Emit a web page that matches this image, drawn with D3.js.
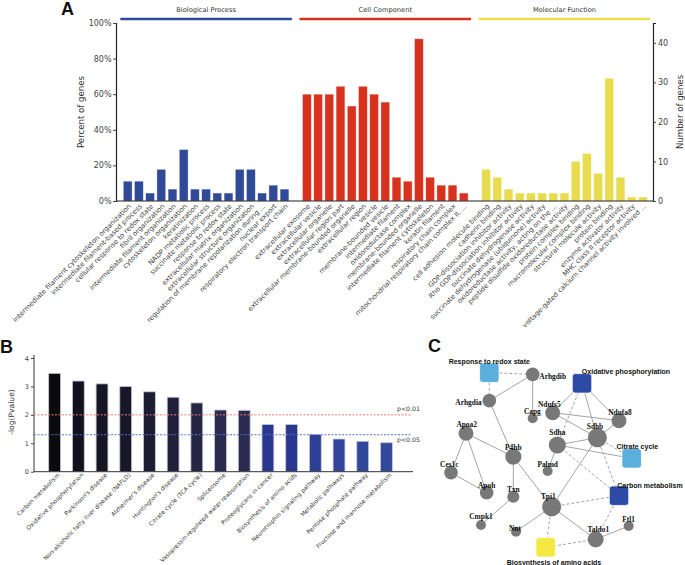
<!DOCTYPE html>
<html><head><meta charset="utf-8">
<script src="https://cdn.jsdelivr.net/npm/d3@7"></script>
<style>body{margin:0;background:#fff}svg{display:block}</style>
</head><body>
<svg id="c" width="685" height="565"></svg>
<script>
// ---------- Panel A data ----------
const bpTerms = ["intermediate filament cytoskeleton organization","intermediate filament-based process","cellular response to redox state","fibril organization","intermediate filament organization","cytoskeleton organization","keratinization","NADP metabolic process","succinate metabolic process","response to redox state","extracellular matrix organization","extracellular structure organization","regulation of membrane repolarization during ...","nuclear export","respiratory electron transport chain"];
const bpCounts = [5,5,2,8,3,13,3,3,2,2,8,8,2,4,3];
const ccTerms = ["extracellular exosome","extracellular vesicle","extracellular organelle","extracellular region part","extracellular membrane-bounded organelle","extracellular region","vesicle","membrane-bounded vesicle","intermediate filament","oxidoreductase complex","membrane-bounded organelle","intermediate filament cytoskeleton","keratin filament","respiratory chain complex","mitochondrial respiratory chain complex II, ..."];
const ccCounts = [27,27,27,29,24,29,27,25,6,5,41,6,4,4,2];
const mfTerms = ["cell adhesion molecule binding","cadherin binding","GDP-dissociation inhibitor activity","Rho GDP-dissociation inhibitor activity","succinate dehydrogenase activity","succinate dehydrogenase (ubiquinone) activity","oxidoreductase activity, acting on the ...","peptide disulfide oxidoreductase activity","protein complex binding","macromolecular complex binding","structural molecule activity","protein binding","enzyme activator activity","MHC class II receptor activity","voltage-gated calcium channel activity involved ..."];
const mfCounts = [8,6,3,2,2,2,2,2,10,12,7,31,6,1,1];
const groupNames = ["Biological Process","Cell Component","Molecular Function"];
const totalGenes = 45;
const pctTicks = [0,0.2,0.4,0.6,0.8,1];
const countTicks = [0,10,20,30,40];

// ---------- Panel B data ----------
const keggTerms = ["Carbon metabolism","Oxidative phosphorylation","Parkinson's disease","Non-alcoholic fatty liver disease (NAFLD)","Alzheimer's disease","Huntington's disease","Citrate cycle (TCA cycle)","Spliceosome","Vasopressin-regulated water reabsorption","Proteoglycans in cancer","Biosynthesis of amino acids","Neurotrophin signaling pathway","Metabolic pathways","Pentose phosphate pathway","Fructose and mannose metabolism"];
const keggLogP = [3.46,3.19,3.09,3.0,2.81,2.62,2.42,2.17,2.16,1.66,1.66,1.31,1.15,1.07,1.02];
const logPTicks = [0,1,2,3,4];
const thresholdValues = [2, 1.3];
const thresholdLabels = ["p<0.01","p<0.05"];

// ---------- Panel C data ----------
const nodeNames = ["Response to redox state","Oxidative phosphorylation","Citrate cycle","Carbon metabolism","Biosynthesis of amino acids","Arhgdib","Arhgdia","Capg","Ndufs5","Ndufa8","Sdhb","Sdha","Palmd","Apoa2","P4hb","Ces1c","Apoh","Txn","Tpi1","Cmpk1","Nnt","Taldo1","Ftl1"];
const nodeKinds = ["redox","oxphos","citrate","carbon","biosyn","gene","gene","gene","gene","gene","gene","gene","gene","gene","gene","gene","gene","gene","gene","gene","gene","gene","gene"];
const nodeWeight = [0,0,0,0,0,3,3,1,4,4,8,6,1,4,5,3,3,2,8,1,1,5,1];
const edgeSource = ["Response to redox state","Response to redox state","Arhgdia","Arhgdib","Arhgdia","Apoa2","Apoa2","Apoa2","Ces1c","P4hb","Txn","P4hb","Tpi1","Tpi1","Tpi1","Tpi1","Tpi1","Sdha","Taldo1","Taldo1","Taldo1","Sdhb","Sdha","Sdha","Sdhb","Oxidative phosphorylation","Oxidative phosphorylation","Oxidative phosphorylation","Oxidative phosphorylation","Ndufs5","Ndufs5","Ndufa8","Sdha"];
const edgeTarget = ["Arhgdib","Arhgdia","Arhgdib","Capg","P4hb","Ces1c","Apoh","P4hb","Apoh","Txn","Cmpk1","Tpi1","Nnt","Taldo1","Biosynthesis of amino acids","Carbon metabolism","Sdhb","Palmd","Biosynthesis of amino acids","Ftl1","Carbon metabolism","Carbon metabolism","Carbon metabolism","Citrate cycle","Citrate cycle","Ndufs5","Ndufa8","Sdhb","Sdha","Ndufa8","Sdhb","Sdhb","Sdhb"];
const edgeKind = ["pred","pred","ppi","ppi","ppi","ppi","ppi","ppi","ppi","ppi","ppi","ppi","ppi","ppi","pred","pred","ppi","ppi","pred","ppi","pred","pred","pred","ppi","pred","ppi","ppi","ppi","pred","ppi","ppi","ppi","ppi"];

// ---------- Layout (network positions in a 855x705 design grid) ----------
const netLayout = {
 "Response to redox state":[268,128,0,-33,"middle"],
 "Oxidative phosphorylation":[546,160,132,-35,"middle"],
 "Citrate cycle":[695,385,17,-37,"middle"],
 "Carbon metabolism":[657,497,93,-30,"middle"],
 "Biosynthesis of amino acids":[437,652,25,45,"middle"],
 "Arhgdib":[398,133,20,5,"start"],
 "Arhgdia":[268,212,-23,5,"end"],
 "Capg":[398,265,-1,-20,"middle"],
 "Ndufs5":[458,248,-10,-26,"middle"],
 "Ndufa8":[657,272,3,-25,"middle"],
 "Sdhb":[592,323,-7,-33,"middle"],
 "Sdha":[472,345,0,-37,"middle"],
 "Palmd":[443,423,0,-21,"middle"],
 "Apoa2":[198,310,2,-27,"middle"],
 "P4hb":[340,380,0,-27,"middle"],
 "Ces1c":[153,428,-5,-25,"middle"],
 "Apoh":[260,488,0,-21,"middle"],
 "Txn":[340,500,0,-23,"middle"],
 "Tpi1":[455,530,-10,-32,"middle"],
 "Cmpk1":[243,585,0,-25,"middle"],
 "Nnt":[348,605,-3,-10,"middle"],
 "Taldo1":[587,628,8,-31,"middle"],
 "Ftl1":[686,588,0,-21,"middle"]
};

const svg = d3.select("#c");
const SANS = "'DejaVu Sans', sans-serif";

// ================= PANEL A =================
const A = svg.append("g");
const yPct = d3.scaleLinear().domain([0,1]).range([201,23]);
const yCnt = d3.scaleLinear().domain([0,totalGenes]).range([201,23]);
const slots = [];
const groups = [
 {name:groupNames[0], terms:bpTerms, counts:bpCounts, color:"#304a98"},
 {name:groupNames[1], terms:ccTerms, counts:ccCounts, color:"#d8321f"},
 {name:groupNames[2], terms:mfTerms, counts:mfCounts, color:"#e8dc4e"}
];
groups.forEach((g,gi)=>{
  g.terms.forEach((t,i)=>slots.push({key:gi+"|"+t, term:t, count:g.counts[i], color:g.color, gi}));
  if (gi<2) slots.push({key:"gap"+gi, gap:true});
});
const xA = d3.scaleBand().domain(slots.map(d=>d.key)).range([122.1,648.5]).paddingInner(0.22).paddingOuter(0.11);
const bars = slots.filter(d=>!d.gap);

A.selectAll("rect.bar").data(bars).join("rect")
 .attr("x",d=>xA(d.key)).attr("width",xA.bandwidth())
 .attr("y",d=>yCnt(d.count)).attr("height",d=>yCnt(0)-yCnt(d.count))
 .attr("fill",d=>d.color).attr("stroke","#ffffff").attr("stroke-opacity",0.5).attr("stroke-width",0.6);

// axes
const leftAx = d3.axisLeft(yPct).tickValues(pctTicks).tickFormat(d=>Math.round(d*100)+"%").tickSize(3).tickPadding(1.5);
const gl = A.append("g").attr("transform","translate(116,0)").call(leftAx);
const rightAx = d3.axisRight(yCnt).tickValues(countTicks).tickSize(3).tickPadding(2);
const gr = A.append("g").attr("transform","translate(653,0)").call(rightAx);
[gl,gr].forEach(g=>{
  g.select(".domain").attr("stroke","#222").attr("stroke-width",1.2);
  g.selectAll(".tick line").attr("stroke","#444");
  g.selectAll(".tick text").attr("fill","#444").style("font-family",SANS).style("font-size","8px");
});
A.append("line").attr("x1",116).attr("x2",653).attr("y1",yPct(0)).attr("y2",yPct(0)).attr("stroke","#222").attr("stroke-width",1.2);

// x labels
A.selectAll("text.xl").data(bars).join("text")
 .attr("transform",d=>`translate(${xA(d.key)+xA.bandwidth()/2+2},${205}) rotate(-45)`)
 .attr("text-anchor","end").attr("dy","0.35em")
 .style("font-family",SANS).style("font-size","6.8px").attr("fill","#444")
 .text(d=>d.term);

// group bars & titles
groups.forEach((g,gi)=>{
  const first = xA(gi+"|"+g.terms[0]);
  const last = xA(gi+"|"+g.terms[g.terms.length-1])+xA.bandwidth();
  const x1 = first-3, x2 = last+3;
  A.append("line").attr("x1",x1).attr("x2",x2).attr("y1",19).attr("y2",19)
   .attr("stroke",g.color==="#e8dc4e"?"#ecdf4c":g.color).attr("stroke-width",2.6);
  A.append("text").attr("x",(x1+x2)/2).attr("y",12).attr("text-anchor","middle")
   .style("font-family",SANS).style("font-size","6.7px").attr("fill","#333").text(g.name);
});
A.append("text").attr("transform","translate(84,112) rotate(-90)").attr("text-anchor","middle")
 .style("font-family",SANS).style("font-size","8.6px").attr("fill","#333").text("Percent of genes");
A.append("text").attr("transform","translate(683,112) rotate(-90)").attr("text-anchor","middle")
 .style("font-family",SANS).style("font-size","8.6px").attr("fill","#333").text("Number of genes");
A.append("text").attr("x",61).attr("y",15).style("font-family","'Liberation Sans', Arial, sans-serif")
 .style("font-weight","bold").style("font-size","18px").attr("fill","#111").text("A");

// ================= PANEL B =================
const B = svg.append("g");
const yB = d3.scaleLinear().domain([0,4]).range([471.7,358]);
const xB = d3.scaleBand().domain(keggTerms).range([42.77,398.27]).paddingInner(0.5).paddingOuter(0.25);
const colB = d3.scaleLinear().domain([3.46,3.0,2.16,1.66,1.02]).range(["#0b0b0d","#17172a","#2b2b4f","#2a3790","#31489b"]);
B.selectAll("rect").data(keggTerms).join("rect")
 .attr("x",d=>xB(d)).attr("width",xB.bandwidth())
 .attr("y",(d,i)=>yB(keggLogP[i])).attr("height",(d,i)=>yB(0)-yB(keggLogP[i]))
 .attr("fill",(d,i)=>colB(keggLogP[i])).attr("stroke","#c9c9d3").attr("stroke-width",0.8);
const gB = B.append("g").attr("transform","translate(34,0)")
 .call(d3.axisLeft(yB).tickValues(logPTicks).tickFormat(d3.format("d")).tickSize(3).tickPadding(2));
gB.select(".domain").attr("stroke","#333").attr("d","M-0,355V471.7");
gB.selectAll(".tick line").attr("stroke","#444");
gB.selectAll(".tick text").attr("fill","#444").style("font-family",SANS).style("font-size","6.5px");
B.append("line").attr("x1",34).attr("x2",413).attr("y1",yB(0)).attr("y2",yB(0)).attr("stroke","#333").attr("stroke-width",1);
const thrColors = ["#f07c70","#5a6fc8"];
thresholdValues.forEach((v,i)=>{
  B.append("line").attr("x1",34).attr("x2",412).attr("y1",yB(v)).attr("y2",yB(v))
   .attr("stroke",thrColors[i]).attr("stroke-width",1).attr("stroke-dasharray","2,1.5");
  B.append("text").attr("x",397).attr("y",i===0?yB(v)-4:yB(v)+7).style("font-family",SANS)
   .style("font-size","6.2px").attr("fill","#333").text(thresholdLabels[i]);
});
B.selectAll("text.xl").data(keggTerms).join("text")
 .attr("transform",d=>`translate(${xB(d)+xB.bandwidth()/2+4},474) rotate(-45)`)
 .attr("text-anchor","end").attr("dy","0.35em")
 .style("font-family",SANS).style("font-size","5.9px").attr("fill","#333").text(d=>d);
B.append("text").attr("transform","translate(14,412) rotate(-90)").attr("text-anchor","middle")
 .style("font-family",SANS).style("font-size","7.6px").attr("fill","#333").text("-log(Pvalue)");
B.append("text").attr("x",0).attr("y",353).style("font-family","'Liberation Sans', Arial, sans-serif")
 .style("font-weight","bold").style("font-size","18px").attr("fill","#111").text("B");

// ================= PANEL C =================
const C = svg.append("g");
const xC = d3.scaleLinear().domain([0,855]).range([400,685]);
const yC = d3.scaleLinear().domain([0,705]).range([330,565]);
const rC = d3.scaleSqrt().domain([1,8]).range([5,9.5]);
const kindFill = {redox:"#5aafdc",citrate:"#5aafdc",oxphos:"#2d4aa6",carbon:"#2d4aa6",biosyn:"#f4e842"};
const nodes = nodeNames.map((n,i)=>({name:n, kind:nodeKinds[i], w:nodeWeight[i], x:xC(netLayout[n][0]), y:yC(netLayout[n][1]), lay:netLayout[n]}));
const byName = Object.fromEntries(nodes.map(n=>[n.name,n]));
const edges = edgeSource.map((s,i)=>({s:byName[s], t:byName[edgeTarget[i]], kind:edgeKind[i]}));
C.selectAll("line").data(edges).join("line")
 .attr("x1",d=>d.s.x).attr("y1",d=>d.s.y).attr("x2",d=>d.t.x).attr("y2",d=>d.t.y)
 .attr("stroke","#9a9a9a").attr("stroke-width",0.9)
 .attr("stroke-dasharray",d=>d.kind==="pred"?"3,2":null);
const sq = 19.5;
C.selectAll("rect").data(nodes.filter(n=>n.kind!=="gene")).join("rect")
 .attr("x",d=>d.x-sq/2).attr("y",d=>d.y-sq/2).attr("width",sq).attr("height",sq).attr("rx",3)
 .attr("fill",d=>kindFill[d.kind]).attr("stroke","#ffffff").attr("stroke-width",0.8);
C.selectAll("circle").data(nodes.filter(n=>n.kind==="gene")).join("circle")
 .attr("cx",d=>d.x).attr("cy",d=>d.y).attr("r",d=>rC(d.w)).attr("fill","#787878");
C.selectAll("text.lab").data(nodes).join("text")
 .attr("x",d=>d.x+d.lay[2]/3).attr("y",d=>d.y+d.lay[3]/3+2.5)
 .attr("text-anchor",d=>d.lay[4])
 .style("font-family",d=>d.kind==="gene"?"'Liberation Serif', serif":"'Liberation Sans', Arial, sans-serif")
 .style("font-weight","bold").style("font-size",d=>d.kind==="gene"?"7.4px":"7px")
 .attr("fill","#111").text(d=>d.name);
C.append("text").attr("x",428).attr("y",352).style("font-family","'Liberation Sans', Arial, sans-serif")
 .style("font-weight","bold").style("font-size","18px").attr("fill","#111").text("C");
</script>
</body></html>
